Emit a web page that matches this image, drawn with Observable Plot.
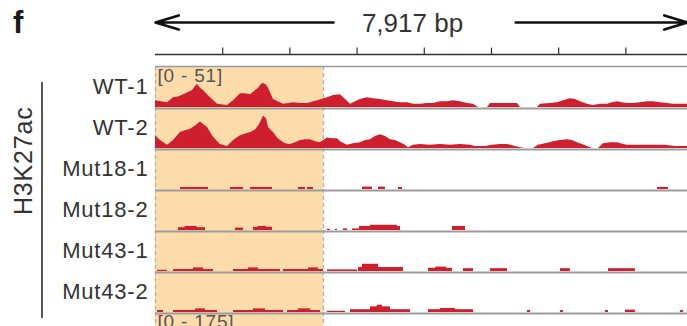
<!DOCTYPE html>
<html><head><meta charset="utf-8">
<script src="https://cdn.jsdelivr.net/npm/d3@7"></script>
<script src="https://cdn.jsdelivr.net/npm/@observablehq/plot@0.6"></script>
<style>
html,body{margin:0;padding:0;background:#fff;overflow:hidden}
#wrap{position:relative;width:687px;height:326px;overflow:hidden;font-family:"Liberation Sans",Arial,sans-serif}
#panel{position:absolute;left:13px;top:5px;font-weight:bold;font-size:31px;color:#1a1a1a}
#bracket{position:absolute;left:41px;top:82px;width:2px;height:236px;background:#555}
svg{display:block}
</style></head><body>
<div id="wrap"><div id="header"></div><div id="chart"></div><div id="panel">f</div><div id="bracket"></div></div>
<script>
// ---- data ----
const regionLength = 7917;                       // bp shown
const rulerTicks = [1000, 2000, 3000, 4000, 5000, 6000, 7000];
const tracks = ["WT-1", "WT-2", "Mut18-1", "Mut18-2", "Mut43-1", "Mut43-2"];
const nextPanel = "next panel";                  // partially visible panel below
const trackRange = [0, 51];
const groupLabel = "H3K27ac";
const highlight = [0, 2500];                     // highlighted region (bp)
const rangeLabels = [["WT-1", "[0 - 51]"], [nextPanel, "[0 - 175]"]];

// coverage profiles [bp, value]
const wt1 = [[0,8.5],[179,6],[268,12],[342,13],[417,16],[476,18],[551,21],[595,26],[625,29],[670,24],[714,21],[818,12],[923,4],[1071,2.5],[1161,8.5],[1265,17],[1339,17],[1414,16],[1473,20],[1533,24],[1577,29],[1607,30],[1652,28],[1681,24],[1756,10],[1905,4],[2053,6],[2158,5],[2262,5],[2411,8.5],[2559,12],[2649,15],[2753,16],[2827,10],[2902,4],[2976,7],[3050,10],[3155,12],[3244,11],[3348,10],[3452,8.5],[3541,7],[3646,6],[3750,6],[3839,4],[3943,4],[4047,5],[4137,5],[4241,7],[4345,7],[4434,8.5],[4538,7],[4643,5],[4732,4],[4806,0],[4940,0],[4985,5],[5178,5],[5387,5],[5431,0],[5684,0],[5729,4],[5878,5],[5982,6],[6071,8.5],[6175,11],[6250,10],[6324,7],[6428,4],[6517,2.5],[6622,4],[6726,4],[6800,6],[6875,7],[6949,6],[7023,5],[7113,5],[7217,6],[7321,7],[7410,7],[7515,6],[7619,5],[7708,4],[7812,4],[7917,4]];
const wt2 = [[0,16],[74,10],[179,4],[268,10],[372,20],[446,22],[521,24],[595,28],[670,33],[729,29],[774,26],[848,16],[908,10],[967,5],[1071,2.5],[1161,10],[1265,16],[1339,18],[1414,20],[1488,23],[1548,30],[1607,40],[1652,37],[1681,26],[1756,20],[1815,13],[1860,10],[1934,6],[2009,5],[2083,7],[2158,10],[2232,11],[2306,11],[2381,8.5],[2455,7],[2559,13],[2634,12],[2708,12],[2753,8.5],[2857,4],[2946,6],[3050,7],[3125,10],[3199,11],[3274,15],[3348,17],[3422,15],[3497,11],[3571,10],[3646,7],[3720,4],[3765,1],[3839,4],[3943,5],[4092,4],[4241,5],[4390,4],[4538,5],[4687,4],[4762,2.5],[4911,2.5],[5015,4],[5134,5],[5238,5],[5357,2.5],[5431,1],[5506,0],[5625,0],[5699,4],[5803,6],[5922,8.5],[6026,10],[6130,11],[6205,10],[6279,7],[6354,5],[6428,2.5],[6503,0],[6592,0],[6666,6],[6770,7],[6875,7],[6964,5],[7023,4],[7142,4],[7291,4],[7440,4],[7589,4],[7738,2.5],[7917,2.5]];

// sparse coverage segments [start bp, end bp, value]
const mut18_1 = [[372,789,2.5],[1116,1309,2.5],[1414,1741,2.5],[2128,2232,2.5],[2262,2351,2.5],[3080,3229,3],[3318,3422,3],[3616,3675,2.5],[7470,7633,2.5]];
const mut18_2 = [[342,744,3.5],[440,620,5],[1190,1309,3],[1458,1741,4],[1530,1650,5],[2559,2604,1.5],[2678,2708,1.5],[2797,2857,2],[2931,3035,2],[3035,3646,5],[3200,3600,6.5],[4419,4613,5]];
const mut43_1 = [[30,179,1.5],[268,863,2.5],[565,714,4.5],[1161,1860,2.5],[1384,1533,4.5],[1905,2500,2.5],[2277,2425,4.5],[2559,3006,2],[3021,3690,5],[3080,3318,9],[4062,4419,4],[4170,4330,5.5],[4583,4732,3.5],[4985,5238,3.5],[6026,6175,3.5],[6741,7142,3.5]];
const mut43_2 = [[30,119,2.5],[268,923,2.5],[595,744,4.5],[1161,1905,2.5],[1458,1637,4.5],[1964,2455,2.5],[2128,2306,4.5],[2559,2827,1.5],[2902,3794,3.5],[3199,3497,7],[3300,3380,9],[4062,4732,3.5],[4241,4464,5],[5535,5580,2.5],[6026,6071,2.5],[6696,6741,2.5],[6994,7142,3],[7812,7857,2.5]];

// ---- tables built from the arrays ----
const profiles = [["WT-1", wt1], ["WT-2", wt2]].flatMap(([track, pts]) => pts.map(([pos, value]) => ({track, pos, value})));
const segments = [["Mut18-1", mut18_1], ["Mut18-2", mut18_2], ["Mut43-1", mut43_1], ["Mut43-2", mut43_2]]
  .flatMap(([track, segs]) => segs.map(([start, end, value]) => ({track, start, end, value})));
const allRows = [...tracks, nextPanel];
const highlightRows = allRows.map(track => ({track, start: highlight[0], end: highlight[1]}));
const labelRows = rangeLabels.map(([track, label]) => ({track, label}));
const spanLabel = d3.format(",")(regionLength) + " bp";
const spanArrows = [{from: 2650, to: 0}, {from: 5360, to: regionLength}];

const RED = "#cf1f2e", PEACH = "#fcdcab", FONT = "'Liberation Sans', Arial, sans-serif";

const header = Plot.plot({
  width: 687, height: 63, marginLeft: 155, marginRight: 0, marginTop: 22, marginBottom: 9,
  x: {domain: [0, regionLength], axis: null},
  y: {domain: [0, 1], axis: null},
  style: {fontFamily: FONT, background: "transparent", color: "#222", overflow: "visible"},
  marks: [
    Plot.ruleY([0], {stroke: "#333", strokeWidth: 1.4}),
    Plot.ruleX(rulerTicks, {x: d => d, y1: 0, y2: 0.2, stroke: "#333", strokeWidth: 1.2}),
    Plot.arrow(spanArrows, {x1: "from", x2: "to", y1: 1, y2: 1, stroke: "#111", strokeWidth: 2.6, headLength: 14, headAngle: 34}),
    Plot.text([spanLabel], {x: regionLength / 2, y: 1, text: d => d, fontSize: 26, fill: "#333", dx: -9, dy: 1, style: "letter-spacing:1px"})
  ]
});
document.getElementById("header").append(header);

const chart = Plot.plot({
  width: 687, height: 293, marginLeft: 155, marginRight: 0, marginTop: 0, marginBottom: 0,
  x: {domain: [0, regionLength], axis: null},
  y: {domain: trackRange, axis: null},
  fy: {domain: allRows, padding: 0, axis: "left", label: null, tickSize: 0, tickPadding: 7,
       tickFormat: d => tracks.includes(d) ? d : ""},
  style: {fontFamily: FONT, fontSize: "22px", color: "#333", background: "transparent", letterSpacing: "0.8px"},
  marks: [
    Plot.rect(highlightRows, {x1: "start", x2: "end", fy: "track", fill: PEACH}),
    Plot.ruleX(highlight, {x: d => d, stroke: "#b0b0b0", strokeWidth: 1.3, strokeDasharray: "4,3"}),
    Plot.ruleY([0], {stroke: "#9c9c9c", strokeWidth: 1.8, dy: 1}),
    Plot.areaY(profiles, {x: "pos", y: "value", fy: "track", fill: RED, curve: "linear"}),
    Plot.rect(segments, {x1: "start", x2: "end", y1: 0, y2: "value", fy: "track", fill: RED}),
    Plot.ruleY([{track: "WT-1", value: trackRange[1]}], {y: "value", fy: "track", stroke: "#9c9c9c", strokeWidth: 1.5}),
    Plot.text(labelRows, {fy: "track", text: "label", frameAnchor: "top-left", textAnchor: "start", lineAnchor: "top", dx: 2, dy: 2, fontSize: 19, fill: "#555"}),
    Plot.text([{track: "Mut18-2", label: groupLabel}], {fy: "track", text: "label", frameAnchor: "left", rotate: -90, dx: -132, dy: 5, fontSize: 25, fill: "#333"})
  ]
});
document.getElementById("chart").append(chart);
</script>
</body></html>
